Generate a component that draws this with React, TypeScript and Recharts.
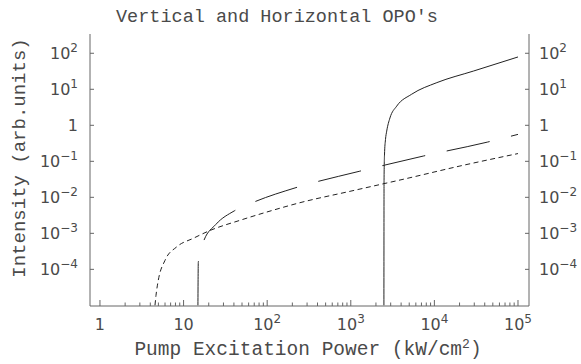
import { LineChart, Line, XAxis, YAxis } from "recharts";

// threshold curves (x in kW/cm^2, y in arb. units)
const shortDashed = [
  { x: 4.55, y: 1e-5 },
  { x: 4.68, y: 1.9e-5 },
  { x: 4.98, y: 4.9e-5 },
  { x: 6.0, y: 1.78e-4 },
  { x: 8.27, y: 4.2e-4 },
  { x: 13.1, y: 7.3e-4 },
  { x: 20.7, y: 1.2e-3 },
  { x: 47.3, y: 2.3e-3 },
  { x: 118, y: 4.4e-3 },
  { x: 247, y: 7.1e-3 },
  { x: 980, y: 0.0147 },
  { x: 5100, y: 0.035 },
  { x: 20200, y: 0.074 },
  { x: 100000, y: 0.164 },
];

const longDashed = [
  { x: 14.85, y: 1e-5 },
  { x: 15.0, y: 1.56e-4 },
  { x: 15.7, y: 2.6e-4 },
  { x: 17.2, y: 5.7e-4 },
  { x: 24.4, y: 1.78e-3 },
  { x: 40.4, y: 4.2e-3 },
  { x: 69.5, y: 7.4e-3 },
  { x: 221, y: 0.0186 },
  { x: 1260, y: 0.0527 },
  { x: 7360, y: 0.14 },
  { x: 43400, y: 0.343 },
  { x: 100000, y: 0.56 },
];

const solid = [
  { x: 2490, y: 1e-5 },
  { x: 2500, y: 0.03 },
  { x: 2530, y: 0.15 },
  { x: 2600, y: 0.4 },
  { x: 2690, y: 0.69 },
  { x: 2940, y: 1.6 },
  { x: 3540, y: 3.4 },
  { x: 5350, y: 7.3 },
  { x: 10700, y: 15.3 },
  { x: 29200, y: 32 },
  { x: 100000, y: 79 },
];

const xTickLabels = [
  { value: 1, base: "1", exp: "" },
  { value: 10, base: "10", exp: "" },
  { value: 100, base: "10", exp: "2" },
  { value: 1000, base: "10", exp: "3" },
  { value: 10000, base: "10", exp: "4" },
  { value: 100000, base: "10", exp: "5" },
];
const xMinorSteps = [2, 3, 4, 5, 6, 7, 8, 9];

const yTickLabels = [
  { value: 1e-4, base: "10", exp: "\u22124" },
  { value: 1e-3, base: "10", exp: "\u22123" },
  { value: 1e-2, base: "10", exp: "\u22122" },
  { value: 1e-1, base: "10", exp: "\u22121" },
  { value: 1, base: "1", exp: "" },
  { value: 10, base: "10", exp: "1" },
  { value: 100, base: "10", exp: "2" },
];

const xTicks = xTickLabels.flatMap((t, i) =>
  i < xTickLabels.length - 1 ? [t.value, ...xMinorSteps.map((m) => t.value * m)] : [t.value]
);
const yTicks = yTickLabels.map((t) => t.value);

const xDomain = [0.76, 135400];
const yDomain = [9.6e-6, 343];

const frame = "#666";
const ink = "#222";
const textColor = "#4a4a4a";
const tickFont = "'DejaVu Sans', sans-serif";
const monoFont = "'Liberation Mono', 'Courier New', monospace";

const Label = ({ base, exp, ...rest }: any) => (
  <text fill={textColor} fontFamily={tickFont} fontSize={16} {...rest}>
    {base}
    {exp && (
      <tspan dy={-7} fontSize={12}>
        {exp}
      </tspan>
    )}
  </text>
);

const BottomTick = ({ x, y, payload }: any) => {
  const lab = xTickLabels.find((t) => t.value === payload.value);
  return (
    <g>
      <line x1={x} x2={x} y1={y} y2={y - (lab ? 6 : 3.5)} stroke={frame} />
      {lab && <Label x={x} y={y + 24} textAnchor="middle" base={lab.base} exp={lab.exp} />}
    </g>
  );
};

const LeftTick = ({ x, y, payload }: any) => {
  const lab = yTickLabels.find((t) => t.value === payload.value);
  return (
    <g>
      <line x1={x} x2={x + 4} y1={y} y2={y} stroke={frame} />
      {lab && <Label x={x - 12} y={y + 6} textAnchor="end" base={lab.base} exp={lab.exp} />}
    </g>
  );
};

const RightTick = ({ x, y, payload }: any) => {
  const lab = yTickLabels.find((t) => t.value === payload.value);
  return (
    <g>
      <line x1={x} x2={x - 4} y1={y} y2={y} stroke={frame} />
      {lab && <Label x={x + 10} y={y + 6} textAnchor="start" base={lab.base} exp={lab.exp} />}
    </g>
  );
};

export default function App() {
  return (
    <div style={{ position: "absolute", left: 0, top: 0, width: 581, height: 364, background: "#fff" }}>
      <LineChart width={581} height={364} margin={{ top: 34, right: 0, bottom: 0, left: 0 }}>
        <XAxis
          dataKey="x"
          type="number"
          scale="log"
          domain={xDomain}
          allowDataOverflow
          ticks={xTicks}
          interval={0}
          height={58}
          tickSize={0}
          tickMargin={0}
          tick={<BottomTick />}
          axisLine={{ stroke: frame }}
        />
        <XAxis
          xAxisId="top"
          orientation="top"
          type="number"
          scale="log"
          domain={xDomain}
          allowDataOverflow
          height={0}
          tick={false}
          tickLine={false}
          axisLine={{ stroke: frame }}
        />
        <YAxis
          type="number"
          scale="log"
          domain={yDomain}
          allowDataOverflow
          ticks={yTicks}
          interval={0}
          width={90}
          tickSize={0}
          tickMargin={0}
          tick={<LeftTick />}
          axisLine={{ stroke: frame }}
        />
        <YAxis
          yAxisId="right"
          orientation="right"
          type="number"
          scale="log"
          domain={yDomain}
          allowDataOverflow
          ticks={yTicks}
          interval={0}
          width={52}
          tickSize={0}
          tickMargin={0}
          tick={<RightTick />}
          axisLine={{ stroke: frame }}
        />
        <Line
          data={shortDashed}
          dataKey="y"
          type="monotone"
          stroke={ink}
          strokeWidth={1}
          strokeDasharray="5 3.5"
          dot={false}
          isAnimationActive={false}
        />
        <Line
          data={longDashed}
          dataKey="y"
          type="monotone"
          stroke={ink}
          strokeWidth={1}
          strokeDasharray="44 22"
          dot={false}
          isAnimationActive={false}
        />
        <Line
          data={solid}
          dataKey="y"
          type="monotone"
          stroke={ink}
          strokeWidth={1}
          dot={false}
          isAnimationActive={false}
        />
      </LineChart>
      <svg
        width={581}
        height={364}
        style={{ position: "absolute", left: 0, top: 0, pointerEvents: "none" }}
      >
        <text x={277} y={22} textAnchor="middle" fontFamily={monoFont} fontSize={18.5} fill={textColor}>
          Vertical and Horizontal OPO's
        </text>
        <text
          x={25}
          y={158}
          transform="rotate(-90 25 158)"
          textAnchor="middle"
          fontFamily={monoFont}
          fontSize={19}
          fill={textColor}
        >
          Intensity (arb.units)
        </text>
        <text x={308} y={355} textAnchor="middle" fontFamily={monoFont} fontSize={19.5} fill={textColor}>
          Pump Excitation Power (kW/cm
          <tspan dy={-7} fontSize={13}>
            2
          </tspan>
          <tspan dy={7}>)</tspan>
        </text>
      </svg>
    </div>
  );
}
